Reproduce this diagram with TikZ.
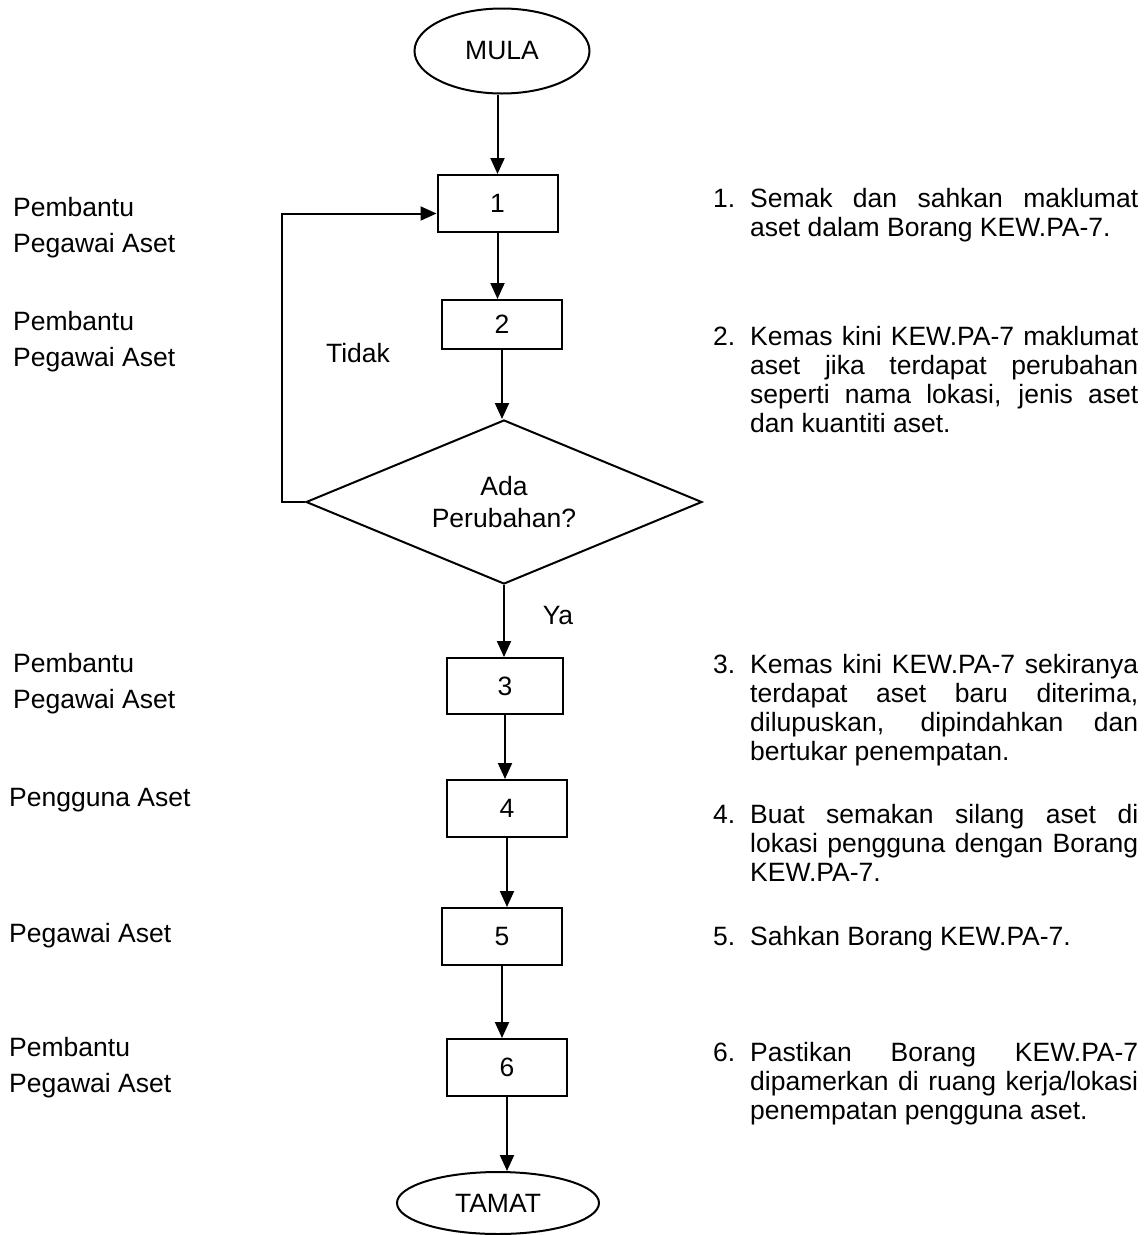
\documentclass[tikz,border=0pt]{standalone}
\usepackage{fontspec}
\setmainfont{Liberation Sans}
\usetikzlibrary{shapes.geometric,arrows.meta}
\tolerance=10000
\hbadness=10000
\hyphenpenalty=10000
\exhyphenpenalty=10000
\newcommand\kewpa{\mbox{KEW.PA-7}}
% numbered description: number in a fixed column, justified text beside it
\newcommand\stepdesc[2]{\makebox[37pt][l]{#1}\parbox[t]{388pt}{#2}}

\begin{document}
\begin{tikzpicture}[x=1pt,y=-1pt,
  every node/.style={font=\fontsize{26.5}{31}\selectfont, inner sep=0pt},
  term/.style={draw, ellipse, line width=2pt, minimum width=175pt, minimum height=85pt},
  stepbox/.style={draw, rectangle, line width=2pt, minimum width=120pt, minimum height=57pt},
  decide/.style={draw, diamond, line width=2pt, aspect=2.41, minimum width=396pt, minimum height=164pt, align=center},
  arr/.style={line width=2pt, -{Triangle[length=16pt,width=14pt]}},
  role/.style={anchor=base west, align=left, font=\fontsize{26.5}{36}\selectfont},
  desc/.style={anchor=base west, font=\fontsize{26.5}{29}\selectfont},
]
\useasboundingbox (0,0) rectangle (1148,1235);

% flow column
\node[term] (mula) at (502,51) {MULA};
\node[stepbox] (b1) at (497.5,203.5) {1};
\node[stepbox, minimum height=49pt] (b2) at (502,324.5) {2};
\node[decide] (dia) at (504,502) {Ada\\[1pt]Perubahan?};
\node[stepbox, minimum width=116pt, minimum height=56pt] (b3) at (505,686) {3};
\node[stepbox] (b4) at (507,808.5) {4};
\node[stepbox] (b5) at (502,936.5) {5};
\node[stepbox] (b6) at (507,1067.5) {6};
\node[term, minimum width=202pt, minimum height=62pt] (tamat) at (498,1203) {TAMAT};

\node (tidak) at (358,353) {Tidak};
\node (ya) at (558,616) {Ya};

% connectors
\draw[arr] (b1.north |- mula.south) -- (b1.north);
\draw[arr] (b1.south) -- (b1.south |- b2.north);
\draw[arr] (b2.south) -- (b2.south |- dia.north);
\draw[arr] (dia.south) -- (dia.south |- b3.north);
\draw[arr] (b3.south) -- (b3.south |- b4.north);
\draw[arr] (b4.south) -- (b4.south |- b5.north);
\draw[arr] (b5.south) -- (b5.south |- b6.north);
\draw[arr] (b6.south) -- (b6.south |- tamat.north);
\draw[arr] (dia.west) -- ++(-23,0) |- ([yshift=-10pt]b1.west);

% responsible parties (placed by the baseline of the last line)
\node[role] (r1) at (13,252) {Pembantu\\Pegawai Aset};
\node[role] (r2) at (13,366) {Pembantu\\Pegawai Aset};
\node[role] (r3) at (13,708) {Pembantu\\Pegawai Aset};
\node[role] (r4) at (9,806) {Pengguna Aset};
\node[role] (r5) at (9,942) {Pegawai Aset};
\node[role] (r6) at (9,1092) {Pembantu\\Pegawai Aset};

% step descriptions (placed by the baseline of the first line)
\node[desc] (d1) at (713,207) {\stepdesc{1.}{Semak dan sahkan maklumat\linebreak aset dalam Borang \kewpa.}};
\node[desc] (d2) at (713,345) {\stepdesc{2.}{Kemas kini \kewpa{} maklumat\linebreak aset jika terdapat perubahan\linebreak seperti nama lokasi, jenis aset\linebreak dan kuantiti aset.}};
\node[desc] (d3) at (713,673) {\stepdesc{3.}{Kemas kini \kewpa{} sekiranya\linebreak terdapat aset baru diterima,\linebreak dilupuskan, dipindahkan dan\linebreak bertukar penempatan.}};
\node[desc] (d4) at (713,823) {\stepdesc{4.}{Buat semakan silang aset di\linebreak lokasi pengguna dengan Borang\linebreak \kewpa.}};
\node[desc] (d5) at (713,945) {\stepdesc{5.}{Sahkan Borang \kewpa.}};
\node[desc] (d6) at (713,1061) {\stepdesc{6.}{Pastikan Borang \kewpa\linebreak dipamerkan di ruang kerja/lokasi\linebreak penempatan pengguna aset.}};
\end{tikzpicture}
\end{document}
